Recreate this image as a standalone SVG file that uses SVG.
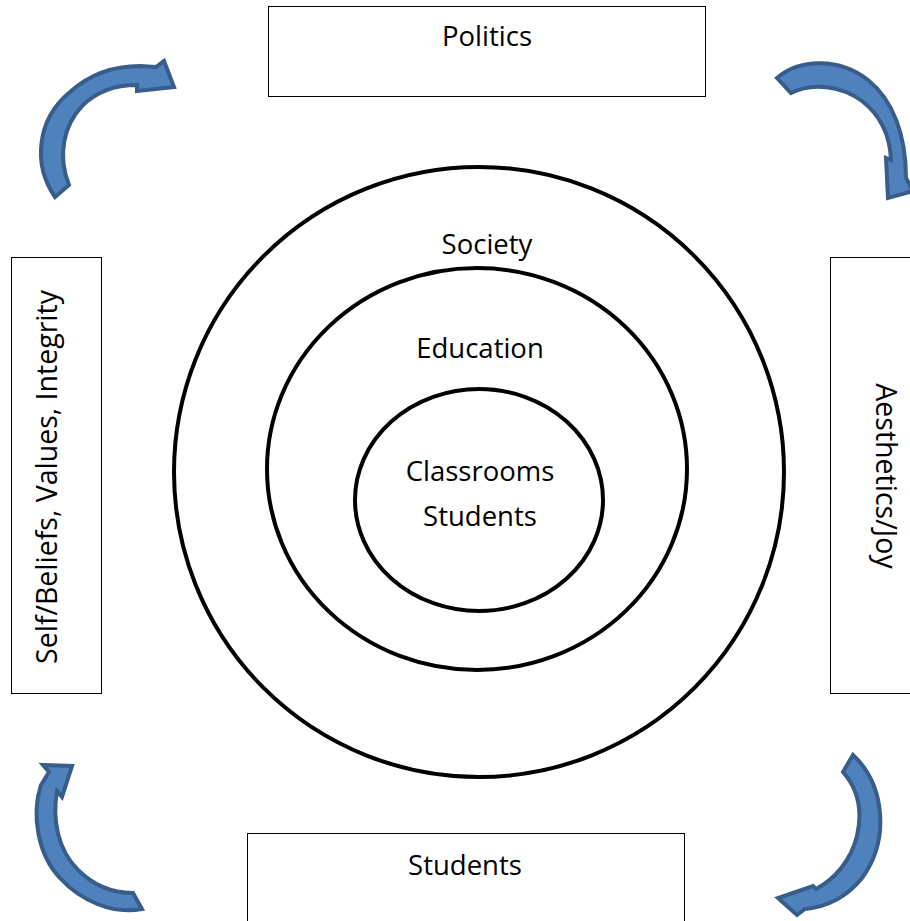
<svg xmlns="http://www.w3.org/2000/svg" width="910" height="921" viewBox="0 0 910 921">
  <style>
    .box { fill: #ffffff; stroke: #000000; stroke-width: 1; }
    .ring { fill: none; stroke: #000000; stroke-width: 4; }
    .label { font-family: "Open Sans", "Liberation Sans", sans-serif; font-size: 27.5px; fill: #000000; text-anchor: middle; }
    .side { font-size: 28.5px; }
    .cycle { fill: #4F81BD; stroke: #385D8A; stroke-width: 4; stroke-linejoin: miter; }
  </style>
  <rect width="910" height="921" fill="#ffffff"/>

  <!-- nested spheres -->
  <g id="society">
    <ellipse class="ring" cx="479" cy="472" rx="305" ry="305"/>
    <text class="label" x="487" y="254">Society</text>
  </g>
  <g id="education">
    <ellipse class="ring" cx="477" cy="469" rx="210" ry="201"/>
    <text class="label" x="480" y="358">Education</text>
  </g>
  <g id="classrooms">
    <ellipse class="ring" cx="479" cy="500" rx="124" ry="111"/>
    <text class="label" x="480" y="481">Classrooms</text>
    <text class="label" x="480" y="526">Students</text>
  </g>

  <!-- outer influences -->
  <g id="politics">
    <rect class="box" x="268.5" y="6.5" width="437" height="90"/>
    <text class="label" x="487" y="46">Politics</text>
  </g>
  <g id="self">
    <rect class="box" x="11.5" y="257.5" width="90" height="436"/>
    <text class="label side" transform="translate(57 477) rotate(-90)">Self/Beliefs, Values, Integrity</text>
  </g>
  <g id="aesthetics">
    <rect class="box" x="830.5" y="257.5" width="95" height="436"/>
    <text class="label side" transform="translate(876 476) rotate(90)">Aesthetics/Joy</text>
  </g>
  <g id="students">
    <rect class="box" x="247.5" y="833.5" width="437" height="100"/>
    <text class="label" x="465" y="875">Students</text>
  </g>

  <!-- clockwise cycle arrows -->
  <g id="connectors">
    <path class="cycle" d="M55,197 C33,165 36,120 70,92 C90,74 115,66 140,66 L156,67 L164,61 L174,87 L137,91 L137,85 C115,85 96,92 82,106 C64,125 57,155 69,185 Z"/>
    <path class="cycle" d="M777,78 C800,58 840,58 868,80 C893,100 906,135 906,178 L913,191 L888,198 L886,158 L891,160 C890,135 880,115 862,101 C842,86 812,82 791,93 Z"/>
    <path class="cycle" d="M853,755 C885,785 890,840 862,878 C846,898 825,907 805,909 L797,915 L778,898 L813,886 L816,889 C835,879 851,860 857,836 C863,810 857,788 843,772 Z"/>
    <path class="cycle" d="M43,765 L72,766 L62,797 L57,791 C52,820 58,850 78,870 C95,887 113,893 133,893 L142,909 C112,915 80,900 60,878 C38,855 31,815 41,785 L49,772 Z"/>
  </g>
</svg>
